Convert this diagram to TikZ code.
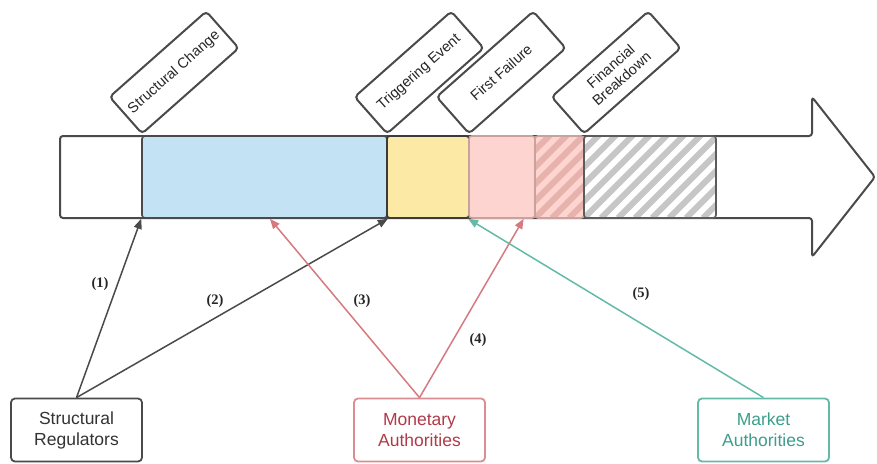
\documentclass[tikz,border=0pt]{standalone}
\usepackage{fontspec}
\setmainfont{Liberation Sans}
\newfontfamily\lblfont{Liberation Serif}
\usetikzlibrary{arrows.meta,calc}
\definecolor{edge}{HTML}{4A4A4A}
\definecolor{bluefill}{HTML}{C3E3F4}
\definecolor{yellowfill}{HTML}{FDE9A6}
\definecolor{pinkfill}{HTML}{FDD4CF}
\definecolor{pinkedge}{HTML}{C9A29D}
\definecolor{pinkstripe}{HTML}{E6B2AC}
\definecolor{greystripe}{HTML}{C6C6C6}
\definecolor{redline}{HTML}{D47A80}
\definecolor{redbox}{HTML}{DA8D92}
\definecolor{redtext}{HTML}{B03A48}
\definecolor{tealline}{HTML}{62BAA7}
\definecolor{tealtext}{HTML}{3C9E8B}
\begin{document}
\begin{tikzpicture}[x=1pt,y=-1pt,
  seg/.style={draw=edge, line width=1.6pt, rounded corners=3pt, minimum height=82pt, inner sep=0pt},
  tag/.style={draw=edge, line width=2pt, fill=white, rounded corners=4pt, minimum width=129pt, minimum height=49pt, inner sep=2pt, align=center, font=\fontsize{14.5}{16.5}\selectfont, text=black!85, anchor=south west, rotate=41.5},
  actor/.style={line width=1.8pt, rounded corners=4pt, minimum width=131pt, minimum height=63pt, align=center, font=\fontsize{17.5}{21}\selectfont, fill=white},
  conn/.style={line width=1.5pt, -{Triangle[length=10pt,width=8pt]}},
  num/.style={font=\lblfont\bfseries\fontsize{14.5}{16}\selectfont, text=black!85},
  stripes/.style={path picture={
      \foreach \i in {-12,...,12}
        \draw[#1, line width=6pt] ($(path picture bounding box.south west)+(\i*17pt,0pt)$) -- ++(120pt,120pt);
    }}
]
\useasboundingbox (0,0) rectangle (877,463);

% big arrow body
\draw[edge, line width=2pt, rounded corners=3pt, line join=round, fill=white]
  (60,136) -- (812,136) -- (812,97) -- (875,177) -- (812,257) -- (812,218) -- (60,218) -- cycle;

% segments
\node[seg, fill=bluefill, minimum width=245pt] (s1) at (264.5,177) {};
\node[seg, fill=yellowfill, draw=edge!80!black, minimum width=82pt] (s2) at (428,177) {};
\node[seg, fill=pinkfill, draw=pinkedge, minimum width=66pt] (s3) at (502,177) {};
\node[seg, fill=pinkfill, draw=pinkedge, stripes=pinkstripe, minimum width=49pt] (s4) at (559.5,177) {};
\node[seg, fill=white, draw=edge!90, stripes=greystripe, minimum width=132pt] (s5) at (650,177) {};

% tags
\node[tag] (t1) at (142,135) {Structural Change};
\node[tag] (t2) at (387,135) {Triggering Event};
\node[tag] (t3) at (469,135) {First Failure};
\node[tag] (t4) at (584,135) {Financial\\Breakdown};

% actors
\node[actor, draw=edge, text=black!80] (sr) at (76.5,430) {Structural\\Regulators};
\node[actor, draw=redbox, text=redtext] (ma) at (419.5,430) {Monetary\\Authorities};
\node[actor, draw=tealline, text=tealtext] (mk) at (763.5,430) {Market\\Authorities};

% connectors
\draw[conn, edge] (sr.north) -- (s1.south west);
\draw[conn, edge] (sr.north) -- (s1.south east);
\draw[conn, redline] (ma.north) -- ($(s1.south west)!0.522!(s1.south east)$);
\draw[conn, redline] (ma.north) -- ($(s3.south west)!0.82!(s3.south east)$);
\draw[conn, tealline] (mk.north) -- (s3.south west);

% labels
\node[num] (l1) at (100,284) {(1)};
\node[num] (l2) at (215,301) {(2)};
\node[num] (l3) at (362,301) {(3)};
\node[num] (l4) at (478,340) {(4)};
\node[num] (l5) at (641,294) {(5)};
\end{tikzpicture}
\end{document}
